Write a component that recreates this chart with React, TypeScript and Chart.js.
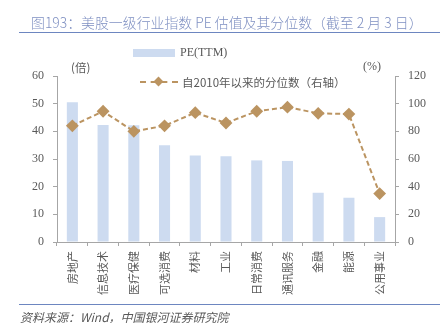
import React, { useEffect, useRef } from "react";
import { Chart, registerables } from "chart.js";

Chart.register(...registerables);

const categories = ["房地产", "信息技术", "医疗保健", "可选消费", "材料", "工业", "日常消费", "通讯服务", "金融", "能源", "公用事业"];
const peValues = [50.5, 42.3, 42.2, 35.0, 31.3, 31.0, 29.5, 29.3, 17.8, 16.0, 9.0];
const percentileValues = [84, 94.5, 80, 84, 93.5, 86, 94.5, 97.5, 93, 92.5, 35];
const leftTicks = [0, 10, 20, 30, 40, 50, 60];
const rightTicks = [0, 20, 40, 60, 80, 100, 120];

const BAR = "#cddbf0";
const LINE = "#bb9461";
const AXIS = "#a6a6a6";
const TXT = "#595959";
const NUMFONT = "'Liberation Serif', 'Noto Sans CJK SC', serif";
const CJK = "'Noto Sans CJK SC', sans-serif";

export default function App() {
  const ref = useRef<HTMLCanvasElement>(null);
  useEffect(() => {
    if (!ref.current) return;
    const chart = new Chart(ref.current, {
      type: "bar",
      data: {
        labels: categories,
        datasets: [
          {
            type: "line",
            label: "自2010年以来的分位数（右轴）",
            data: percentileValues,
            yAxisID: "y2",
            borderColor: LINE,
            backgroundColor: LINE,
            borderWidth: 2,
            borderDash: [5, 3],
            pointStyle: "rectRot",
            pointRadius: 5,
            pointBackgroundColor: LINE,
            pointBorderColor: LINE,
            tension: 0,
            order: 0,
          },
          {
            type: "bar",
            label: "PE(TTM)",
            data: peValues,
            yAxisID: "y",
            backgroundColor: BAR,
            categoryPercentage: 1,
            barPercentage: 0.36,
            order: 1,
          },
        ],
      },
      options: {
        responsive: false,
        animation: false,
        layout: { padding: { top: 76, left: 0, right: 0, bottom: 0 } },
        plugins: { legend: { display: false }, tooltip: { enabled: false } },
        scales: {
          x: {
            grid: { display: true, drawOnChartArea: false, drawTicks: true, tickLength: 4, color: AXIS, offset: true },
            border: { display: true, color: AXIS, width: 1 },
            ticks: { color: TXT, font: { family: CJK, size: 11 }, maxRotation: 90, minRotation: 90, padding: 5, autoSkip: false },
            afterFit: (s: any) => { s.height = 81; },
          },
          y: {
            position: "left",
            min: 0,
            max: 60,
            afterBuildTicks: (s: any) => { s.ticks = leftTicks.map((v) => ({ value: v })); },
            grid: { display: true, drawOnChartArea: false, drawTicks: true, tickLength: 4, color: AXIS },
            border: { display: true, color: AXIS, width: 1 },
            ticks: { color: TXT, font: { family: NUMFONT, size: 12 }, padding: 9 },
            afterFit: (s: any) => { s.width = 57; },
          },
          y2: {
            position: "right",
            min: 0,
            max: 120,
            afterBuildTicks: (s: any) => { s.ticks = rightTicks.map((v) => ({ value: v })); },
            grid: { display: true, drawOnChartArea: false, drawTicks: true, tickLength: 4, color: AXIS },
            border: { display: true, color: AXIS, width: 1 },
            ticks: { color: TXT, font: { family: NUMFONT, size: 12 }, padding: 9 },
            afterFit: (s: any) => { s.width = 53; },
          },
        },
      },
    } as any);
    return () => chart.destroy();
  }, []);

  const abs = (o: React.CSSProperties): React.CSSProperties => ({ position: "absolute", whiteSpace: "nowrap", ...o });

  return (
    <div style={{ position: "absolute", left: 0, top: 0, width: 448, height: 323, background: "#fff", overflow: "hidden" }}>
      <canvas ref={ref} width={448} height={323} style={{ position: "absolute", left: 0, top: 0, width: 448, height: 323 }} />
      <div style={abs({ left: 31, top: 12, fontFamily: CJK, fontSize: 13.9, color: "#7f90c2", fontWeight: 300 })}>
        图193：美股一级行业指数 PE 估值及其分位数（截至 2 月 3 日）
      </div>
      <div style={abs({ left: 19, top: 32, width: 421, height: 0, borderTop: "1.5px solid #6d86c0" })} />
      <div style={abs({ left: 133, top: 49, width: 42, height: 8, background: BAR })} />
      <div style={abs({ left: 180, top: 45, fontFamily: NUMFONT, fontSize: 12, color: TXT })}>PE(TTM)</div>
      <div style={abs({ left: 140, top: 81, width: 38, height: 0, borderTop: `2px dashed ${LINE}` })} />
      <div style={abs({ left: 155, top: 78, width: 7, height: 7, background: LINE, transform: "rotate(45deg)" })} />
      <div style={abs({ left: 182, top: 74, fontFamily: CJK, fontSize: 11.5, color: TXT })}>自2010年以来的分位数（右轴）</div>
      <div style={abs({ left: 71, top: 59, fontFamily: CJK, fontSize: 11.5, color: TXT })}>(倍)</div>
      <div style={abs({ left: 363, top: 59, fontFamily: NUMFONT, fontSize: 12, color: TXT })}>(%)</div>
      <div style={abs({ left: 19, top: 304, width: 421, height: 0, borderTop: "1px solid #6d86c0" })} />
      <div style={abs({ left: 20, top: 308, fontFamily: CJK, fontSize: 12, color: TXT, fontStyle: "italic" })}>
        资料来源：Wind，中国银河证券研究院
      </div>
    </div>
  );
}
